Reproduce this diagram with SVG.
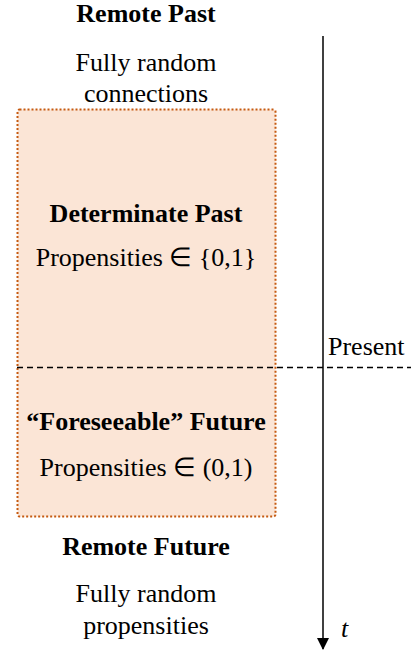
<svg xmlns="http://www.w3.org/2000/svg" width="411" height="654" viewBox="0 0 411 654">
<defs>
<style>
text{font-family:"Liberation Serif","Times New Roman",serif;font-size:26px;fill:#000}
.b{font-weight:bold}
.c{text-anchor:middle}
</style>
<marker id="ah" markerWidth="12" markerHeight="12" refX="11" refY="6" orient="auto" markerUnits="userSpaceOnUse"><path d="M0,0 L12,6 L0,12 Z" fill="#000"/></marker>
</defs>
<g id="box">
<rect x="17.5" y="109.5" width="258" height="407" rx="2" fill="#fbe5d6" stroke="#c55a11" stroke-width="2" stroke-dasharray="2,2"/>
</g>
<g id="connectors">
<line x1="17" y1="367.5" x2="411" y2="367.5" stroke="#000" stroke-width="1.3" stroke-dasharray="6,4"/>
<line x1="323" y1="36" x2="323" y2="649" stroke="#000" stroke-width="1.5" marker-end="url(#ah)"/>
</g>
<g id="remote-past">
<text class="b c" x="146" y="22">Remote Past</text>
<text class="c" x="146" y="71">Fully random</text>
<text class="c" x="146" y="102">connections</text>
</g>
<g id="determinate-past">
<text class="b c" x="146" y="222">Determinate Past</text>
<text class="c" x="146" y="266">Propensities ∈ {0,1}</text>
</g>
<g id="present">
<text x="328" y="355">Present</text>
</g>
<g id="foreseeable-future">
<text class="b c" x="146" y="430">“Foreseeable” Future</text>
<text class="c" x="146" y="476">Propensities ∈ (0,1)</text>
</g>
<g id="remote-future">
<text class="b c" x="146" y="555">Remote Future</text>
<text class="c" x="146" y="602">Fully random</text>
<text class="c" x="146" y="634">propensities</text>
</g>
<g id="t-label">
<text x="341" y="637" font-style="italic">t</text>
</g>
</svg>
